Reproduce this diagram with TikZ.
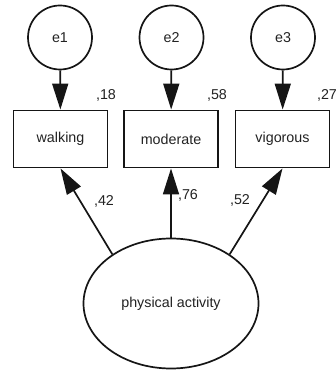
\documentclass[tikz,border=0pt]{standalone}
\usepackage{fontspec}
\setmainfont{Liberation Sans}
\usetikzlibrary{shapes.geometric,arrows.meta}
\definecolor{ink}{HTML}{151515}
\definecolor{txt}{HTML}{222222}
\begin{document}
\begin{tikzpicture}[x=1pt,y=-1pt,
  every node/.style={text=txt,font=\fontsize{14.3pt}{16pt}\selectfont},
  errvar/.style={draw=ink,line width=1.7pt,circle,minimum size=64pt,inner sep=0pt},
  obsvar/.style={draw=ink,line width=1.9pt,rectangle,minimum width=94pt,minimum height=57pt,inner sep=0pt},
  latvar/.style={draw=ink,line width=1.7pt,ellipse,minimum width=175pt,minimum height=130pt,inner sep=0pt},
  path/.style={draw=ink,line width=1.7pt,-{Triangle[length=26pt,width=16pt]}},
  coef/.style={inner sep=0pt}]
  \useasboundingbox (0,0) rectangle (336,371);
  % error terms
  \node[errvar] (e1) at (60,37.5) {e1};
  \node[errvar] (e2) at (171.5,37.5) {e2};
  \node[errvar] (e3) at (283,37.5) {e3};
  % observed indicators
  \node[obsvar] (walk) at (60.5,139) {walking};
  \node[obsvar] (mod) at (171,139) {moderate};
  \node[obsvar] (vig) at (282.5,139) {vigorous};
  % latent factor
  \node[latvar] (pa) at (171,303.5) {physical activity};
  % residual paths
  \draw[path] (e1) -- (walk);
  \draw[path] (e2) -- (mod);
  \draw[path] (e3) -- (vig);
  % loadings
  \draw[path] (pa.140) -- (walk.south);
  \draw[path] (pa.north) -- (mod.south);
  \draw[path] (pa.40) -- (vig.south);
  % squared multiple correlations
  \node[coef] (r1) at (106,95) {,18};
  \node[coef] (r2) at (217,95) {,58};
  \node[coef] (r3) at (327,95) {,27};
  % standardized loadings
  \node[coef] (l1) at (104,201) {,42};
  \node[coef] (l2) at (188,195) {,76};
  \node[coef] (l3) at (240,200) {,52};
\end{tikzpicture}
\end{document}
